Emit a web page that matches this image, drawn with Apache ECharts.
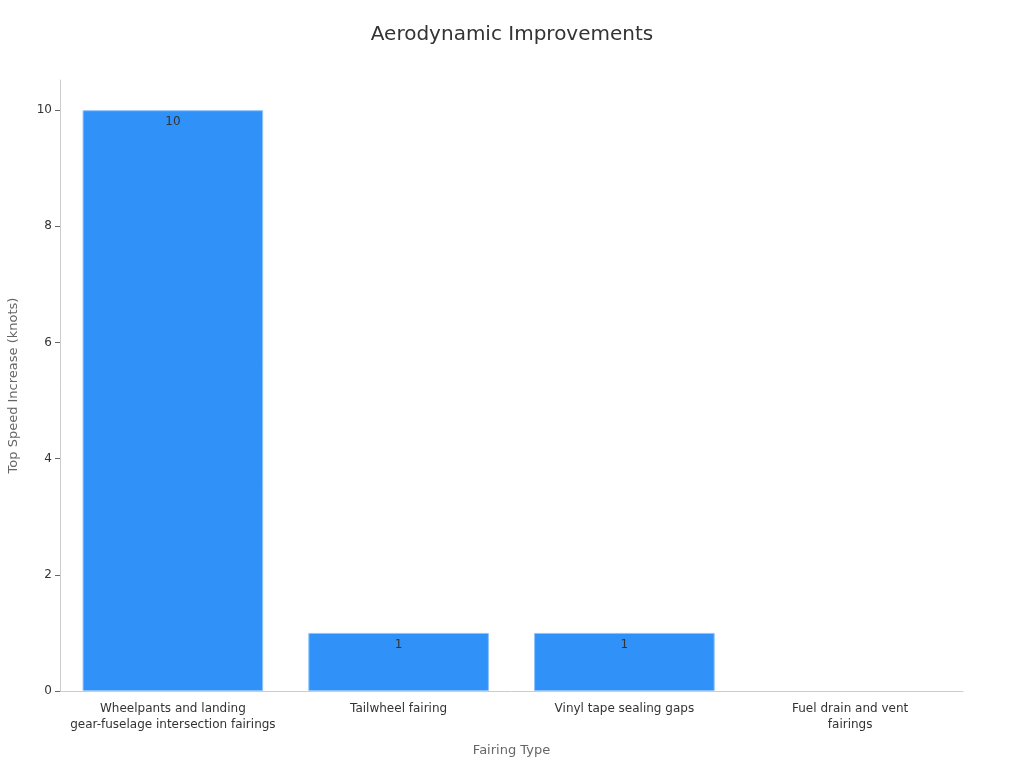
<!DOCTYPE html>
<html>
<head>
<meta charset="utf-8">
<script src="https://cdn.jsdelivr.net/npm/echarts@6/dist/echarts.min.js"></script>
<style>html,body{margin:0;padding:0;background:#fff}#c{width:1024px;height:768px}</style>
</head>
<body>
<div id="c"></div>
<script>
const categories = ["Wheelpants and landing\ngear-fuselage intersection fairings", "Tailwheel fairing", "Vinyl tape sealing gaps", "Fuel drain and vent\nfairings"];
const speedIncrease = [10, 1, 1, 0];
const yTicks = [0, 2, 4, 6, 8, 10];

const barData = speedIncrease.map(v => ({
  value: v,
  itemStyle: v === 0 ? { borderWidth: 0 } : {}
}));

const chart = echarts.init(document.getElementById('c'));
chart.setOption({
  textStyle: { fontFamily: 'DejaVu Sans' },
  title: {
    text: 'Aerodynamic Improvements',
    left: 'center', top: 20,
    textStyle: { fontSize: 20, fontWeight: 'normal', color: '#333', fontFamily: 'DejaVu Sans' }
  },
  grid: { left: 60, right: 61, top: 80, bottom: 77, containLabel: false, outerBoundsMode: 'none' },
  xAxis: {
    type: 'category',
    data: categories,
    name: 'Fairing Type',
    nameLocation: 'middle',
    nameGap: 53,
    nameTextStyle: { fontSize: 13, color: '#666' },
    axisLine: { lineStyle: { color: '#ccc' } },
    axisTick: { alignWithLabel: true, lineStyle: { color: '#666' }, length: 5 },
    axisLabel: { color: '#333', fontSize: 12, interval: 0, margin: 10, lineHeight: 16 }
  },
  yAxis: {
    type: 'value',
    min: 0, max: 10.52, interval: 2,
    name: 'Top Speed Increase (knots)',
    nameLocation: 'middle',
    nameGap: 40,
    nameTextStyle: { fontSize: 13, color: '#666' },
    axisLine: { show: true, lineStyle: { color: '#ccc' } },
    axisTick: { show: true, lineStyle: { color: '#666' }, length: 5 },
    splitLine: { show: false },
    axisLabel: { color: '#333', fontSize: 12, showMaxLabel: false,
      formatter: v => yTicks.includes(v) ? String(v) : '' }
  },
  series: [{
    type: 'bar',
    data: barData,
    barCategoryGap: '20%',
    itemStyle: { color: '#3092F8', borderColor: '#8EC3FA', borderWidth: 1 },
    label: {
      show: true, position: 'insideTop', distance: 6, color: '#333', fontSize: 12,
      formatter: p => p.value === 0 ? '' : String(p.value)
    }
  }]
});
</script>
</body>
</html>
